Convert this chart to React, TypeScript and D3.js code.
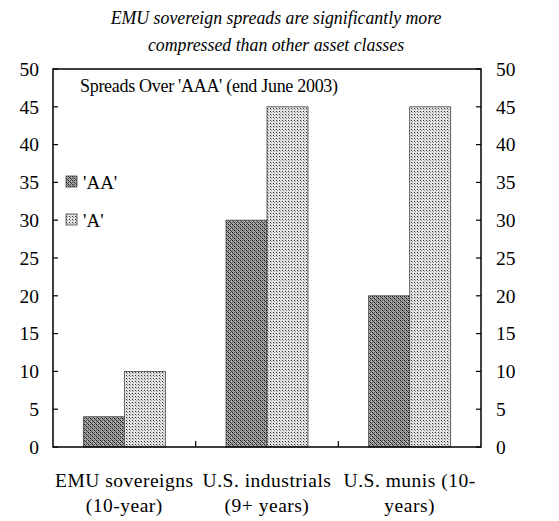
import React from "react";
import * as d3 from "d3";

const categories = ["EMU sovereigns", "U.S. industrials", "U.S. munis"];
const categoryLines = [
  ["EMU sovereigns", "(10-year)"],
  ["U.S. industrials", "(9+ years)"],
  ["U.S. munis (10-", "years)"],
];
const seriesNames = ["'AA'", "'A'"];
const aaValues = [4, 30, 20];
const aValues = [10, 45, 45];
const yTicks = [0, 5, 10, 15, 20, 25, 30, 35, 40, 45, 50];

const W = 559;
const H = 521;
const left = 53;
const right = 481;
const top = 69;
const bottom = 447;
const font = "'Liberation Serif', 'Times New Roman', 'DejaVu Serif', serif";

export default function App() {
  const y = d3.scaleLinear().domain([0, 50]).range([bottom, top]);
  const x0 = d3.scaleBand<string>().domain(categories).range([left, right]).padding(0);
  const x1 = d3
    .scaleBand<string>()
    .domain(seriesNames)
    .range([0, x0.bandwidth()])
    .paddingInner(0)
    .paddingOuter(0.74);
  const seriesData = [aaValues, aValues];
  const fills = ["url(#patAA)", "url(#patA)"];

  return (
    <svg
      width={W}
      height={H}
      style={{ position: "absolute", left: 0, top: 0, background: "#fff", fontFamily: font }}
    >
      <defs>
        <pattern id="patAA" width="4" height="4" patternUnits="userSpaceOnUse">
          <rect width="4" height="4" fill="#a8a8a8" />
          <rect x="0" y="0" width="1" height="1" fill="#111" />
          <rect x="2" y="2" width="1" height="1" fill="#111" />
          <rect x="1" y="1" width="1" height="1" fill="#444" />
          <rect x="3" y="3" width="1" height="1" fill="#444" />
          <rect x="2" y="0" width="1" height="1" fill="#555" />
          <rect x="0" y="2" width="1" height="1" fill="#555" />
        </pattern>
        <pattern id="patA" width="3" height="3" patternUnits="userSpaceOnUse">
          <rect width="3" height="3" fill="#e2e2e2" />
          <rect x="0" y="0" width="1" height="1" fill="#333" />
          <rect x="1" y="1" width="1" height="1" fill="#999" />
        </pattern>
      </defs>

      <text x={276} y={24} textAnchor="middle" fontSize={17.8} fontStyle="italic">
        EMU sovereign spreads are significantly more
      </text>
      <text x={276} y={51} textAnchor="middle" fontSize={17.8} fontStyle="italic">
        compressed than other asset classes
      </text>

      {categories.map((c, ci) =>
        seriesData.map((vals, si) => {
          const bx = (x0(c) as number) + (x1(seriesNames[si]) as number);
          return (
            <rect
              key={c + si}
              x={bx}
              y={y(vals[ci])}
              width={x1.bandwidth()}
              height={y(0) - y(vals[ci])}
              fill={fills[si]}
              stroke="#444"
              strokeWidth={0.8}
            />
          );
        })
      )}

      <rect x={left} y={top} width={right - left} height={bottom - top} fill="none" stroke="#000" strokeWidth={1.5} />

      {yTicks.map((t) => (
        <g key={t}>
          <line x1={left} x2={left + 5} y1={y(t)} y2={y(t)} stroke="#000" strokeWidth={1.2} />
          <line x1={right} x2={right - 5} y1={y(t)} y2={y(t)} stroke="#000" strokeWidth={1.2} />
          <text x={39} y={y(t)} dy="0.35em" textAnchor="end" fontSize={19.5}>
            {t}
          </text>
          <text x={496} y={y(t)} dy="0.35em" textAnchor="start" fontSize={19.5}>
            {t}
          </text>
        </g>
      ))}

      {categories.slice(1).map((c) => (
        <line key={c} x1={x0(c)} x2={x0(c)} y1={bottom} y2={bottom - 6} stroke="#000" strokeWidth={1.2} />
      ))}

      {categories.map((c, i) => {
        const cx = (x0(c) as number) + x0.bandwidth() / 2;
        return (
          <g key={c}>
            <text x={cx} y={487} textAnchor="middle" fontSize={19.5} letterSpacing={0.5}>
              {categoryLines[i][0]}
            </text>
            <text x={cx} y={512} textAnchor="middle" fontSize={19.5} letterSpacing={0.5}>
              {categoryLines[i][1]}
            </text>
          </g>
        );
      })}

      <text x={80} y={92} fontSize={18} letterSpacing={-0.3}>
        Spreads Over 'AAA' (end June 2003)
      </text>

      {seriesNames.map((s, i) => (
        <g key={s}>
          <rect x={66} y={176 + i * 38} width={11} height={11} fill={fills[i]} stroke="#444" strokeWidth={0.8} />
          <text x={83} y={189 + i * 38} fontSize={19}>
            {s}
          </text>
        </g>
      ))}
    </svg>
  );
}
